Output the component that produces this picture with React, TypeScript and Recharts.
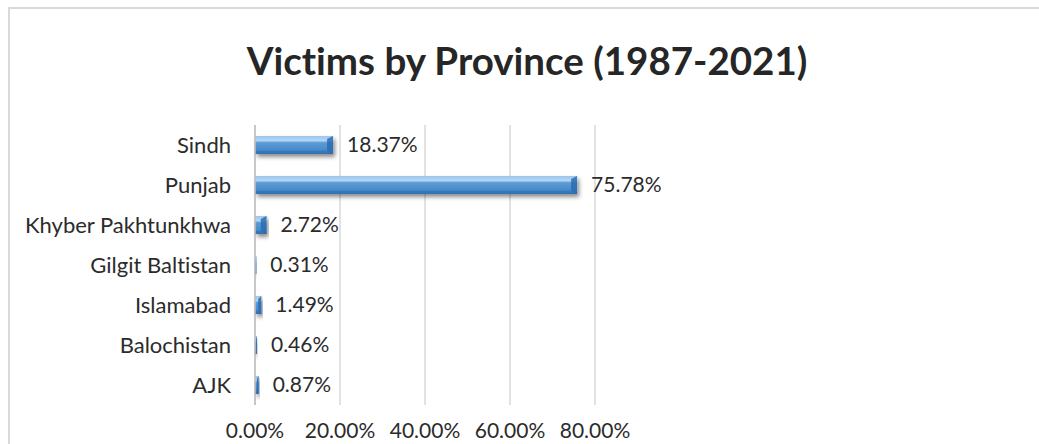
import React from 'react';
import { BarChart, Bar, XAxis, YAxis, CartesianGrid, LabelList } from 'recharts';

const provinces = ['Sindh', 'Punjab', 'Khyber Pakhtunkhwa', 'Gilgit Baltistan', 'Islamabad', 'Balochistan', 'AJK'];
const shares = [18.37, 75.78, 2.72, 0.31, 1.49, 0.46, 0.87];
const xTicks = [0, 20, 40, 60, 80];
const title = 'Victims by Province (1987-2021)';

const data = provinces.map((p, i) => ({ name: p, value: shares[i] }));

const FONT = 'Lato, "Open Sans", sans-serif';
const NOLIG = { fontVariantLigatures: 'none' as const };

const BevelBar = (props: any) => {
  const { x, y, width, height, index } = props;
  if (width == null || width <= 0) return null;
  const gid = `bg${index}`;
  const fid = `bs${index}`;
  const cap = Math.min(6, width / 2);
  return (
    <g>
      <defs>
        <linearGradient id={gid} x1="0" y1="0" x2="0" y2="1">
          <stop offset="0%" stopColor="#9cc6ec" />
          <stop offset="25%" stopColor="#b3d6f3" />
          <stop offset="38%" stopColor="#5b9bd5" />
          <stop offset="75%" stopColor="#4a8ccd" />
          <stop offset="100%" stopColor="#2f6aa9" />
        </linearGradient>
        <filter id={fid} x="-20%" y="-30%" width="140%" height="200%">
          <feDropShadow dx="2" dy="3" stdDeviation="2" floodColor="#000" floodOpacity="0.45" />
        </filter>
      </defs>
      <rect x={x} y={y} width={width} height={height} fill={`url(#${gid})`} filter={`url(#${fid})`} />
      <polygon
        points={`${x + width - cap},${y + 3} ${x + width},${y} ${x + width},${y + height} ${x + width - cap},${y + height - 3}`}
        fill="#2c6cb0"
        opacity={0.85}
      />
      <rect x={x} y={y + height - 3} width={Math.max(0, width - cap)} height={3} fill="#3574b8" opacity={0.8} />
    </g>
  );
};

export default function App() {
  return (
    <div style={{ position: 'absolute', left: 0, top: 0, width: 1039, height: 444, background: '#fff', overflow: 'hidden' }}>
      <div
        style={{
          position: 'absolute',
          left: 8,
          top: 7,
          width: 1060,
          height: 480,
          border: '2px solid #d9d9d9',
          boxSizing: 'border-box',
        }}
      />
      <div
        style={{
          position: 'absolute',
          left: 0,
          width: 1054,
          top: 35,
          textAlign: 'center',
          fontFamily: FONT,
          fontWeight: 700,
          fontSize: 38.5,
          color: '#262626',
          lineHeight: '50px',
          ...NOLIG,
        }}
      >
        {title}
      </div>
      <div style={{ position: 'absolute', left: 0, top: 0 }}>
        <BarChart
          width={1039}
          height={444}
          layout="vertical"
          data={data}
          margin={{ top: 125, right: 444, bottom: 0, left: 0 }}
          barSize={18}
        >
          <CartesianGrid horizontal={false} stroke="#d9d9d9" strokeWidth={1.5} />
          <XAxis
            type="number"
            domain={[0, 80]}
            ticks={xTicks}
            axisLine={false}
            tickLine={false}
            tickSize={0}
            tickMargin={18}
            height={39}
            interval={0}
            tickFormatter={(v: number) => `${v.toFixed(2)}%`}
            tick={{ fill: '#2b2b2b', fontSize: 21, fontFamily: FONT, style: NOLIG }}
          />
          <YAxis
            type="category"
            dataKey="name"
            width={255}
            axisLine={{ stroke: '#bfbfbf', strokeWidth: 1.5 }}
            tickLine={false}
            tickSize={0}
            tickMargin={24}
            interval={0}
            tick={{ fill: '#2b2b2b', fontSize: 22, fontFamily: FONT, style: NOLIG }}
          />
          <Bar dataKey="value" isAnimationActive={false} shape={<BevelBar />}>
            <LabelList
              dataKey="value"
              position="right"
              offset={14}
              formatter={(v: number) => `${v.toFixed(2)}%`}
              style={{ fill: '#2b2b2b', fontSize: 21, fontFamily: FONT, ...NOLIG }}
            />
          </Bar>
        </BarChart>
      </div>
    </div>
  );
}
